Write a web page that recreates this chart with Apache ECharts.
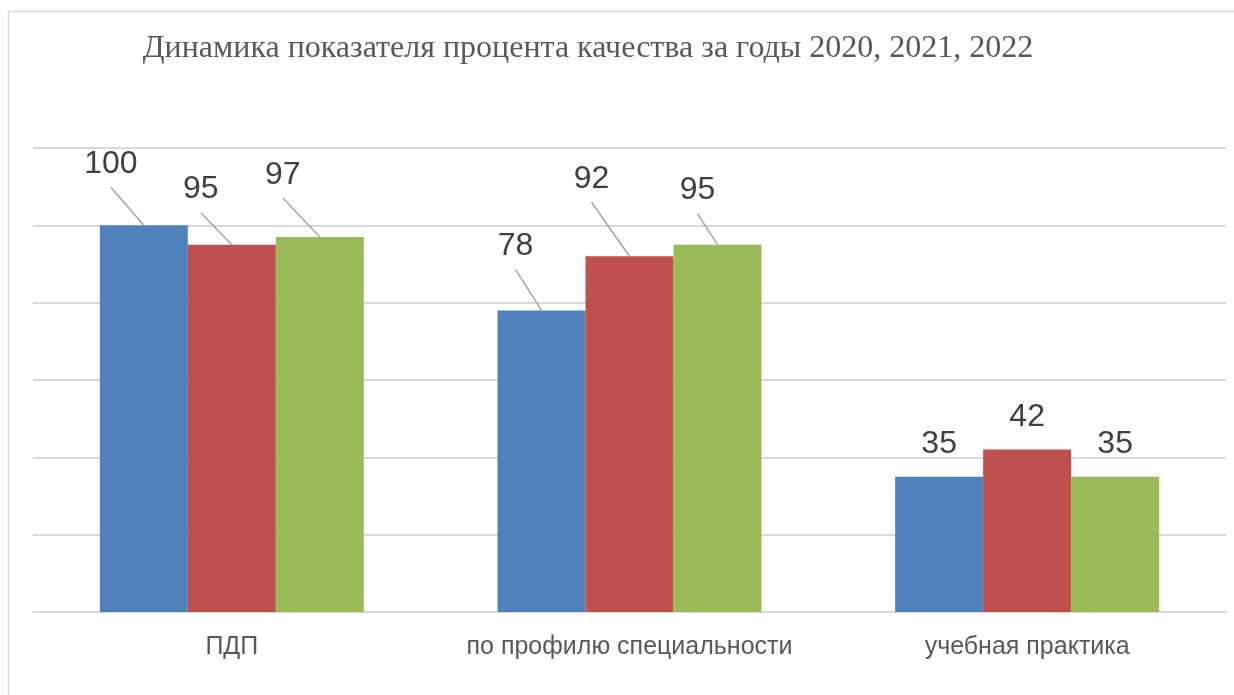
<!DOCTYPE html>
<html>
<head>
<meta charset="utf-8">
<script src="https://cdn.jsdelivr.net/npm/echarts@6/dist/echarts.min.js"></script>
<style>
  html, body { margin: 0; padding: 0; background: #fff; }
  #chart { width: 1234px; height: 695px; }
</style>
</head>
<body>
<div id="chart"></div>
<script>
const categories = ["ПДП", "по профилю специальности", "учебная практика"];
const years = ["2020", "2021", "2022"];
const values2020 = [100, 78, 35];
const values2021 = [95, 92, 42];
const values2022 = [97, 95, 35];

// label shifts as placed in the source (series x category), [dx, dy] px
const labelShift = [
  [[-33, -29], [-26, -32], [0, 0]],
  [[-31, -23], [-38, -45], [0, 0]],
  [[-37, -30], [-20, -22], [0, 0]],
];

const colors = ["#4F81BD", "#C0504D", "#9BBB59"];
const seriesData = [values2020, values2021, values2022];
const BAR_W = 88;

const chart = echarts.init(document.getElementById("chart"));

const series = [];
years.forEach(function (y, i) {
  series.push({
    name: y,
    type: "bar",
    data: seriesData[i],
    barWidth: BAR_W,
    barGap: "0%",
    itemStyle: { color: colors[i] },
  });
});

// data labels with leader lines
years.forEach(function (y, i) {
  series.push({
    name: y + " labels",
    type: "custom",
    coordinateSystem: "cartesian2d",
    z: 5,
    silent: true,
    clip: false,
    data: seriesData[i].map(function (v, c) { return [c, v]; }),
    renderItem: function (params, api) {
      const top = api.coord([api.value(0), api.value(1)]);
      const bx = top[0] + (i - 1) * BAR_W;
      const by = top[1];
      const s = labelShift[i][params.dataIndex];
      const cx = bx + s[0];
      const cy = by - 32 + s[1];
      const children = [{
        type: "text",
        style: {
          text: String(api.value(1)),
          x: cx,
          y: cy,
          align: "center",
          verticalAlign: "middle",
          fill: "#404040",
          fontSize: 32,
          fontFamily: "Liberation Sans",
        },
      }];
      if (s[0] !== 0 || s[1] !== 0) {
        children.push({
          type: "line",
          shape: { x1: cx, y1: cy + 23, x2: bx, y2: by },
          style: { stroke: "#a6a6a6", lineWidth: 1.5 },
        });
      }
      return { type: "group", children: children };
    },
  });
});

const option = {
  animation: false,
  title: {
    text: "Динамика показателя процента качества за годы 2020, 2021, 2022",
    left: 583,
    top: 28,
    textAlign: "center",
    textStyle: {
      fontFamily: "Liberation Serif",
      fontWeight: "normal",
      fontSize: 32,
      color: "#595959",
    },
  },
  graphic: [
    {
      type: "rect",
      shape: { x: 8.5, y: 11.5, width: 1300, height: 800 },
      style: { fill: "none", stroke: "#d9d9d9", lineWidth: 1.5 },
      silent: true,
    },
  ],
  grid: { left: 33, right: 8, top: 148, bottom: 83 },
  xAxis: {
    type: "category",
    data: categories,
    axisTick: { show: false },
    axisLine: { lineStyle: { color: "#d9d9d9", width: 2 } },
    axisLabel: {
      interval: 0,
      color: "#595959",
      fontSize: 25,
      fontFamily: "Liberation Sans",
      margin: 23,
    },
  },
  yAxis: {
    type: "value",
    min: 0,
    max: 120,
    interval: 20,
    axisLabel: { show: false },
    axisLine: { show: false },
    axisTick: { show: false },
    splitLine: { lineStyle: { color: "#d9d9d9", width: 2 } },
  },
  series: series,
};

chart.setOption(option);
</script>
</body>
</html>
